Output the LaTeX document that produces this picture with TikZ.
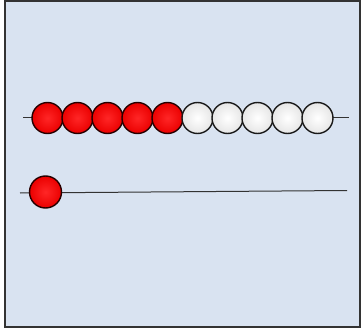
\documentclass[tikz,border=0pt]{standalone}
\begin{document}
\begin{tikzpicture}[x=1pt,y=-1pt,
  rod/.style={draw=black!80, line width=1pt},
  redbead/.style={circle, draw=black!85!red, line width=1.4pt, minimum size=31pt, inner sep=0pt,
     inner color=red!85!white, outer color=red!92!black},
  whitebead/.style={circle, draw=black!90, line width=1.4pt, minimum size=31pt, inner sep=0pt,
     inner color=white, outer color=black!10},
  frame/.style={draw=black!80, line width=2pt, fill={rgb,255:red,217;green,227;blue,241}}]
\useasboundingbox (0,0) rectangle (362,329);
\path[frame] (5,1.5) rectangle (360,327);
% rods
\coordinate (r1a) at (23,117.5);
\coordinate (r1b) at (349,117.5);
\coordinate (r2a) at (20,193);
\coordinate (r2b) at (347,190.5);
\draw[rod] (r1a) -- (r1b);
\draw[rod] (r2a) -- (r2b);
% top row beads
\foreach \i in {0,...,4} {
  \node[redbead] (b\i) at ({47.5+30*\i},118) {};
}
\foreach \i in {5,...,9} {
  \node[whitebead] (b\i) at ({47.5+30*\i},118) {};
}
% bottom row bead
\node[redbead, minimum size=32pt] (c0) at (45.5,192) {};
\end{tikzpicture}
\end{document}
